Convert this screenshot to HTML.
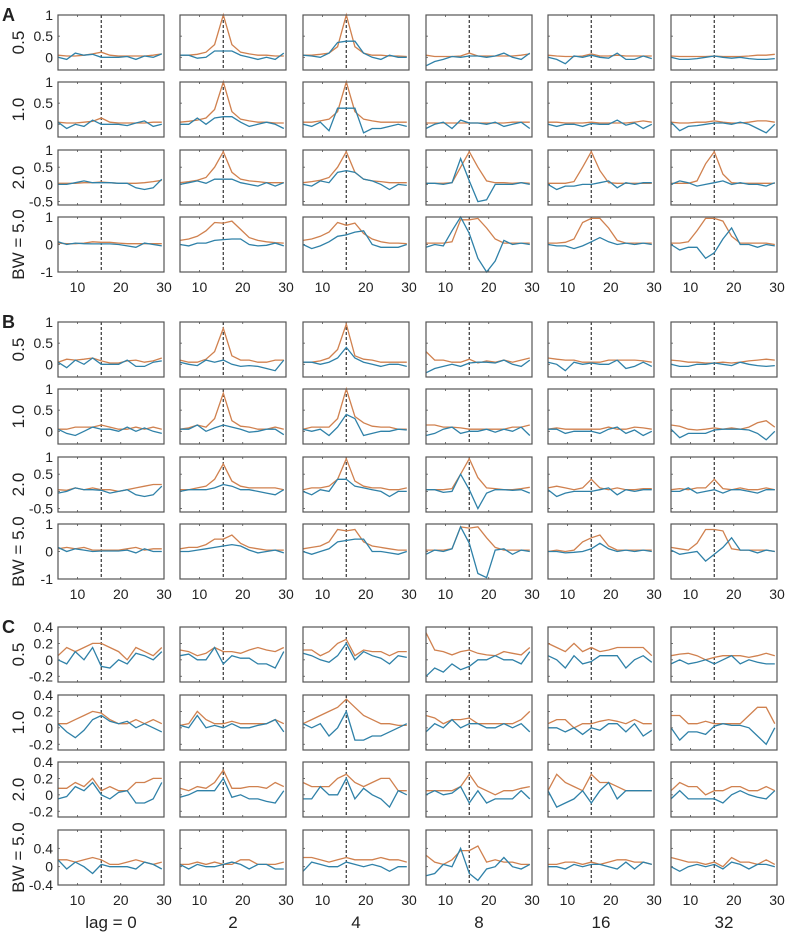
<!DOCTYPE html>
<html><head><meta charset="utf-8"><style>
body{margin:0;background:#fff;}
svg text{font-family:"Liberation Sans",sans-serif;fill:#222;}
</style></head><body>
<svg id="fig" width="787" height="932" viewBox="0 0 787 932" xmlns="http://www.w3.org/2000/svg"></svg>
<script>
const lags = [5.5,7.5,9.5,11.5,13.5,15.5,17.5,19.5,21.5,23.5,25.5,27.5,29.5];
const colLabels = ["lag = 0","2","4","8","16","32"];
const rowLabels = ["0.5","1.0","2.0","BW = 5.0"];
const panelNames = ["A","B","C"];
const refLag = 15.5;
const xTicks = [10,20,30];
const yRangesAB = [[-0.3,1],[-0.3,1],[-0.6,1],[-1,1]];
const yTicksAB = [[0,0.5,1],[0,0.5,1],[-0.5,0,0.5,1],[-1,0,1]];
const yTickLabelsAB = [["0","0.5","1"],["0","0.5","1"],["-0.5","0","0.5","1"],["-1","0","1"]];
const yRangesC = [[-0.27,0.4],[-0.27,0.4],[-0.27,0.4],[-0.4,0.8]];
const yTicksC = [[-0.2,0,0.2,0.4],[-0.2,0,0.2,0.4],[-0.2,0,0.2,0.4],[-0.4,0,0.4]];
const yTickLabelsC = [["-0.2","0","0.2","0.4"],["-0.2","0","0.2","0.4"],["-0.2","0","0.2","0.4"],["-0.4","0","0.4"]];

// Panel A orange / blue [row][col]
const A_orange = [
[[0.05,0.03,0.03,0.05,0.08,0.12,0.05,0.03,0.03,0.03,0.03,0.05,0.08],[0.05,0.05,0.07,0.12,0.3,1.0,0.3,0.12,0.08,0.05,0.05,0.03,0.03],[0.05,0.05,0.07,0.1,0.25,1.0,0.25,0.1,0.05,0.05,0.03,0.03,0.02],[0.05,0.02,0.02,0.02,0.03,0.1,0.03,0.03,0.03,0.03,0.03,0.05,0.08],[0.05,0.03,0.02,0.02,0.03,0.08,0.03,0.03,0.05,0.03,0.03,0.03,0.03],[0.03,0.02,0.02,0.02,0.02,0.03,0.02,0.02,0.02,0.03,0.05,0.05,0.07]],
[[0.05,0.03,0.03,0.05,0.07,0.15,0.05,0.03,0.03,0.03,0.03,0.05,0.05],[0.05,0.07,0.1,0.15,0.35,1.0,0.3,0.12,0.08,0.05,0.05,0.03,0.03],[0.05,0.05,0.08,0.12,0.3,1.0,0.3,0.12,0.08,0.05,0.05,0.05,0.05],[0.03,0.03,0.03,0.03,0.03,0.03,0.03,0.03,0.03,0.03,0.05,0.05,0.05],[0.05,0.05,0.03,0.03,0.03,0.05,0.03,0.03,0.03,0.03,0.05,0.08,0.05],[0.05,0.03,0.03,0.05,0.05,0.08,0.05,0.03,0.03,0.05,0.08,0.08,0.05]],
[[0.03,0.03,0.03,0.05,0.05,0.07,0.05,0.03,0.03,0.03,0.05,0.08,0.12],[0.05,0.08,0.12,0.2,0.5,0.95,0.35,0.15,0.1,0.08,0.05,0.05,0.05],[0.05,0.08,0.12,0.2,0.5,0.95,0.35,0.15,0.1,0.08,0.05,0.05,0.05],[0.03,0.03,0.03,0.05,0.5,0.95,0.5,0.1,0.05,0.05,0.03,0.05,0.03],[0.03,0.03,0.03,0.08,0.5,0.95,0.4,0.05,0.03,0.03,0.03,0.03,0.03],[0.03,0.03,0.03,0.1,0.6,0.95,0.3,0.05,0.03,0.03,0.03,0.03,0.03]],
[[0.05,0.03,0.03,0.05,0.1,0.08,0.08,0.05,0.03,0.03,0.03,0.03,0.03],[0.15,0.2,0.3,0.5,0.8,0.78,0.85,0.55,0.25,0.15,0.1,0.07,0.05],[0.15,0.2,0.3,0.45,0.8,0.7,0.78,0.4,0.2,0.1,0.05,0.05,0.03],[0.05,0.05,0.05,0.1,0.9,0.9,0.95,0.6,0.2,0.05,0.05,0.05,0.05],[0.05,0.05,0.08,0.2,0.8,0.95,0.95,0.6,0.15,0.05,0.05,0.05,0.05],[0.05,0.05,0.1,0.5,0.95,0.95,0.85,0.3,0.05,0.05,0.05,0.05,0.0]]];
const A_blue = [
[[0.0,-0.05,0.1,0.05,0.07,0.0,0.0,0.0,0.02,-0.05,0.03,0.0,0.08],[0.05,0.05,-0.02,0.0,0.15,0.15,0.15,0.05,0.0,-0.05,0.0,-0.05,0.1],[0.05,0.03,0.0,0.1,0.35,0.38,0.38,0.1,0.0,-0.05,0.05,0.0,0.0],[-0.2,-0.1,-0.05,0.02,0.0,0.03,0.03,0.0,0.03,0.1,0.0,-0.05,0.1],[0.0,-0.05,-0.15,0.03,0.0,0.05,0.0,-0.02,0.1,-0.05,-0.05,0.03,-0.03],[0.0,-0.05,-0.05,-0.03,0.0,0.03,0.0,-0.02,0.0,-0.03,-0.05,-0.05,-0.03]],
[[0.05,-0.1,0.0,-0.05,0.1,0.0,0.0,0.0,-0.03,0.03,0.08,-0.05,0.0],[0.0,0.0,0.15,0.0,0.15,0.18,0.18,0.05,-0.05,0.0,0.05,0.0,-0.1],[0.0,-0.05,0.05,-0.15,0.38,0.38,0.38,-0.2,-0.1,-0.1,-0.05,0.0,-0.05],[-0.1,0.0,0.05,-0.1,0.1,0.03,0.03,0.0,0.05,-0.05,0.0,0.05,-0.1],[0.0,-0.05,0.0,0.0,-0.05,0.02,0.0,0.0,0.1,-0.02,0.03,-0.1,0.0],[0.05,-0.15,-0.05,-0.03,0.0,0.03,0.03,0.0,0.05,0.0,-0.1,-0.2,0.0]],
[[0.0,0.0,0.05,0.1,0.05,0.05,0.05,0.03,0.03,-0.1,-0.15,-0.1,0.15],[0.0,0.05,0.1,0.03,0.15,0.15,0.15,0.05,0.0,-0.05,0.05,-0.05,0.05],[0.0,-0.05,0.1,0.05,0.35,0.4,0.35,0.15,0.1,0.0,-0.15,0.0,-0.03],[0.03,0.03,0.0,0.05,0.75,0.1,-0.5,-0.45,0.0,0.0,0.0,0.05,0.0],[0.0,-0.15,-0.05,-0.05,0.0,0.0,0.05,0.1,-0.1,0.05,0.0,0.05,0.05],[0.0,0.1,0.05,-0.05,0.0,0.05,0.1,0.0,0.05,0.0,0.0,-0.05,0.05]],
[[0.1,0.0,0.05,0.03,0.02,0.02,0.02,0.0,-0.05,-0.1,0.05,0.0,-0.05],[0.0,-0.05,0.05,0.05,0.15,0.18,0.2,0.2,0.0,-0.05,-0.03,0.05,-0.05],[0.0,-0.15,-0.05,0.1,0.3,0.35,0.45,0.5,0.0,-0.1,-0.1,-0.1,0.0],[-0.1,0.0,-0.05,0.5,1.0,0.4,-0.5,-1.0,-0.6,0.15,0.0,0.05,0.0],[0.0,-0.05,-0.05,-0.15,-0.05,0.1,0.25,0.1,0.0,0.05,0.0,0.05,0.0],[0.0,-0.2,-0.1,-0.1,-0.5,-0.3,0.2,0.6,0.0,0.0,-0.1,0.0,-0.05]]];

const B_orange = [
[[0.05,0.12,0.1,0.12,0.15,0.08,0.03,0.03,0.08,0.1,0.05,0.08,0.15],[0.1,0.05,0.05,0.12,0.3,0.85,0.2,0.1,0.1,0.05,0.05,0.1,0.1],[0.05,0.05,0.08,0.15,0.35,0.95,0.2,0.12,0.1,0.05,0.05,0.05,0.05],[0.3,0.1,0.1,0.05,0.05,0.12,0.03,0.08,0.05,0.1,0.05,0.1,0.15],[0.15,0.12,0.1,0.1,0.05,0.05,0.05,0.1,0.1,0.1,0.1,0.08,0.05],[0.1,0.08,0.05,0.05,0.03,0.03,0.05,0.03,0.05,0.08,0.1,0.12,0.1]],
[[0.05,0.05,0.1,0.1,0.1,0.15,0.1,0.05,0.05,0.1,0.05,0.1,0.05],[0.05,0.08,0.15,0.1,0.3,0.9,0.25,0.12,0.1,0.05,0.05,0.1,0.05],[0.05,0.1,0.1,0.1,0.3,1.0,0.35,0.2,0.12,0.1,0.1,0.05,0.05],[0.15,0.15,0.1,0.1,0.08,0.05,0.05,0.05,0.05,0.05,0.1,0.1,0.15],[0.05,0.08,0.05,0.05,0.05,0.05,0.05,0.1,0.05,0.05,0.1,0.08,0.05],[0.15,0.12,0.05,0.03,0.05,0.08,0.05,0.08,0.05,0.1,0.2,0.25,0.1]],
[[0.05,0.03,0.1,0.05,0.1,0.05,0.05,0.0,0.05,0.1,0.15,0.2,0.2],[0.05,0.05,0.1,0.15,0.35,0.8,0.3,0.15,0.1,0.1,0.1,0.1,0.05],[0.05,0.1,0.1,0.15,0.35,0.95,0.3,0.15,0.1,0.1,0.05,0.05,0.1],[0.05,0.05,0.05,0.08,0.5,0.95,0.4,0.1,0.08,0.05,0.05,0.08,0.12],[0.1,0.15,0.1,0.05,0.1,0.35,0.1,0.05,0.1,0.05,0.05,0.08,0.08],[0.05,0.08,0.05,0.1,0.1,0.35,0.08,0.05,0.1,0.05,0.05,0.1,0.05]],
[[0.1,0.15,0.1,0.15,0.05,0.05,0.05,0.05,0.1,0.15,0.05,0.1,0.1],[0.1,0.15,0.15,0.25,0.45,0.45,0.6,0.3,0.15,0.1,0.05,0.05,0.05],[0.1,0.15,0.2,0.35,0.8,0.75,0.8,0.35,0.2,0.15,0.1,0.05,0.05],[0.05,0.05,0.05,0.1,0.9,0.85,0.9,0.5,0.15,0.05,0.05,0.05,0.05],[0.0,0.05,0.0,0.05,0.35,0.5,0.6,0.2,0.05,0.05,0.05,0.05,0.05],[0.15,0.1,0.05,0.3,0.8,0.8,0.75,0.1,0.05,0.05,0.05,0.05,0.0]]];
const B_blue = [
[[0.05,-0.08,0.1,0.0,0.15,0.0,0.0,0.0,0.1,-0.05,-0.05,0.05,0.08],[0.05,0.0,-0.03,0.1,0.05,0.1,0.0,-0.05,-0.03,-0.05,-0.1,-0.15,0.1],[0.05,0.05,0.0,0.05,0.15,0.4,0.15,0.05,0.0,-0.05,0.0,0.0,-0.05],[-0.2,-0.1,-0.05,0.0,-0.05,0.03,0.05,0.05,0.03,0.1,0.0,-0.05,0.1],[0.05,0.0,-0.15,0.05,0.0,0.03,0.0,0.0,0.1,-0.1,-0.05,0.05,-0.05],[0.0,-0.05,-0.05,0.0,0.0,0.03,0.0,-0.03,0.05,0.0,-0.03,-0.05,-0.03]],
[[0.05,-0.05,-0.1,0.0,0.1,0.05,0.05,0.0,0.1,0.0,0.08,0.0,-0.05],[0.05,0.05,0.15,0.0,0.08,0.15,0.1,0.05,-0.02,0.0,0.05,0.05,-0.08],[0.05,0.0,0.05,-0.1,0.1,0.4,0.3,-0.1,-0.05,0.0,0.0,0.05,0.03],[-0.1,-0.05,0.05,0.1,-0.05,0.0,0.0,0.05,-0.02,0.05,0.0,0.1,-0.1],[0.05,0.05,-0.05,0.0,0.0,0.0,-0.05,0.05,0.1,-0.05,0.03,-0.1,0.0],[0.05,-0.15,-0.05,-0.05,-0.05,0.03,0.05,0.05,0.05,0.03,-0.05,-0.2,0.0]],
[[-0.05,0.0,0.1,0.05,0.05,0.03,-0.05,0.0,0.05,-0.1,-0.15,-0.1,0.15],[0.0,0.05,0.05,0.05,0.1,0.2,0.15,0.05,0.05,0.0,-0.05,-0.1,0.05],[0.0,-0.1,0.05,0.0,0.35,0.35,0.15,0.1,0.05,0.0,-0.15,0.0,0.0],[0.05,0.05,-0.03,0.0,0.5,0.05,-0.5,-0.05,0.05,0.05,0.03,0.05,-0.05],[0.05,-0.15,-0.05,0.0,0.0,0.0,0.05,0.1,-0.1,0.05,0.0,0.05,0.05],[0.0,0.0,0.1,-0.05,0.0,0.05,-0.05,0.05,0.05,0.0,-0.05,0.05,0.05]],
[[0.15,0.0,0.1,0.05,0.0,0.02,0.02,0.02,0.05,-0.05,0.1,0.0,0.0],[0.0,0.0,0.05,0.1,0.15,0.2,0.25,0.2,0.05,-0.05,0.0,0.05,-0.05],[0.0,-0.1,0.0,0.1,0.35,0.4,0.45,0.45,0.0,0.0,-0.05,-0.1,0.0],[-0.1,0.05,0.0,0.1,0.9,0.3,-0.8,-0.95,0.05,0.1,-0.1,0.05,0.0],[0.0,0.0,-0.05,-0.03,0.0,0.1,0.3,0.1,0.0,0.05,0.0,0.05,0.0],[0.05,-0.1,-0.05,0.0,-0.35,-0.1,0.15,0.5,0.05,0.05,-0.05,0.05,0.0]]];

const C_orange = [
[[0.05,0.15,0.1,0.15,0.2,0.2,0.15,0.1,0.0,0.15,0.1,0.05,0.15],[0.12,0.1,0.05,0.08,0.15,0.1,0.1,0.08,0.12,0.15,0.12,0.1,0.15],[0.12,0.12,0.05,0.1,0.2,0.25,0.05,0.12,0.1,0.1,0.05,0.1,0.1],[0.33,0.12,0.1,0.06,0.1,0.12,0.08,0.06,0.05,0.1,0.08,0.06,0.15],[0.2,0.15,0.1,0.2,0.1,0.15,0.1,0.12,0.15,0.15,0.15,0.15,0.05],[0.05,0.07,0.08,0.05,0.0,0.03,0.05,0.05,0.05,0.03,0.05,0.08,0.05]],
[[0.05,0.05,0.1,0.15,0.2,0.18,0.1,0.05,0.05,0.1,0.05,0.1,0.05],[0.03,0.05,0.2,0.1,0.05,0.05,0.08,0.05,0.05,0.05,0.05,0.1,0.05],[0.05,0.1,0.15,0.2,0.25,0.35,0.25,0.15,0.1,0.05,0.05,0.03,0.03],[0.15,0.12,0.05,0.1,0.1,0.12,0.05,0.05,0.05,0.05,0.05,0.1,0.2],[0.05,0.1,0.1,0.0,0.05,0.05,0.08,0.1,0.08,0.05,0.1,0.05,0.05],[0.15,0.15,0.05,0.05,0.08,0.05,0.05,0.05,0.05,0.15,0.25,0.25,0.05]],
[[0.08,0.08,0.15,0.1,0.2,0.05,0.1,0.05,0.05,0.15,0.15,0.2,0.2],[0.08,0.05,0.1,0.08,0.15,0.3,0.08,0.08,0.1,0.1,0.08,0.15,0.1],[0.15,0.1,0.1,0.1,0.2,0.25,0.15,0.1,0.15,0.2,0.2,0.05,0.05],[0.05,0.05,0.05,0.05,0.1,0.25,0.1,0.05,0.0,0.05,0.05,0.08,0.1],[0.05,0.25,0.15,0.1,0.05,0.25,0.15,0.15,0.1,0.05,0.05,0.05,0.05],[0.05,0.15,0.1,0.1,0.0,0.05,0.05,0.1,0.1,0.05,0.05,0.1,0.05]],
[[0.15,0.15,0.1,0.15,0.2,0.15,0.05,0.05,0.1,0.15,0.1,0.05,0.1],[0.05,0.05,0.1,0.05,0.1,0.05,0.05,0.15,0.15,0.05,0.05,0.05,0.1],[0.2,0.2,0.15,0.1,0.15,0.2,0.15,0.15,0.15,0.2,0.15,0.15,0.1],[0.25,0.1,0.05,0.15,0.35,0.35,0.45,0.1,0.15,0.1,0.1,0.05,0.05],[0.05,0.05,0.1,0.1,0.05,0.1,0.05,0.1,0.15,0.15,0.1,0.1,0.05],[0.2,0.15,0.1,0.1,0.05,0.1,0.0,0.2,0.1,0.1,0.05,0.15,0.05]]];
const C_blue = [
[[0.0,-0.05,0.1,0.0,0.15,-0.08,-0.1,0.0,-0.05,0.08,0.05,0.0,0.1],[0.05,0.07,0.0,0.0,0.15,-0.05,0.05,0.02,0.02,-0.05,-0.05,-0.1,0.1],[0.08,0.05,0.0,-0.03,0.05,0.2,0.0,0.1,0.05,0.02,-0.05,0.05,0.03],[-0.2,-0.1,-0.15,-0.05,-0.12,-0.08,0.0,0.0,0.05,0.0,0.0,-0.05,0.1],[0.05,0.0,-0.1,0.05,-0.05,-0.02,0.05,0.05,0.05,-0.1,0.0,0.05,-0.03],[-0.05,0.0,-0.05,-0.03,0.0,-0.05,0.0,0.05,-0.05,0.0,-0.03,-0.05,-0.05]],
[[0.05,-0.05,-0.12,-0.03,0.1,0.15,0.08,0.05,0.08,0.0,0.05,0.0,-0.05],[0.03,0.0,0.15,0.0,0.03,0.0,0.05,0.0,0.0,0.03,0.05,0.1,-0.05],[0.05,0.0,0.05,-0.1,0.0,0.2,-0.15,-0.15,-0.1,-0.1,-0.05,0.0,0.05],[-0.05,0.05,0.0,0.1,0.0,0.05,0.05,0.0,0.0,0.05,0.0,0.05,-0.05],[0.0,0.0,-0.05,0.0,-0.08,0.0,-0.03,0.05,0.05,-0.05,0.05,-0.1,-0.03],[0.0,-0.15,-0.05,-0.05,-0.08,0.02,0.05,0.03,0.03,0.0,-0.1,-0.2,0.0]],
[[-0.05,-0.02,0.1,0.05,0.15,0.0,-0.05,0.03,0.05,-0.1,-0.1,-0.05,0.15],[-0.03,0.0,0.05,0.05,0.05,0.2,-0.03,0.0,-0.05,-0.05,-0.08,-0.1,0.05],[-0.05,-0.05,0.1,0.0,0.0,0.2,-0.05,0.08,0.0,-0.05,-0.15,0.05,0.0],[0.0,0.05,0.0,0.02,0.1,-0.1,0.05,-0.1,-0.05,-0.05,-0.05,0.05,-0.05],[0.05,-0.15,-0.1,-0.05,0.05,-0.1,0.05,0.15,-0.05,0.05,0.05,0.05,0.05],[-0.05,0.05,-0.05,-0.05,-0.05,-0.05,-0.1,0.0,0.05,0.0,-0.03,-0.05,0.05]],
[[0.15,-0.05,0.1,0.0,-0.15,0.05,0.0,0.0,0.0,-0.05,0.1,0.05,-0.05],[0.05,-0.05,0.05,0.0,0.0,0.05,0.1,0.05,-0.05,0.05,0.05,-0.05,-0.05],[-0.1,0.1,0.05,0.0,0.0,0.1,0.05,0.0,0.05,0.0,-0.1,0.0,0.0],[-0.2,-0.15,0.05,0.0,0.4,-0.15,-0.3,-0.05,0.0,0.2,0.0,-0.05,0.05],[0.0,0.0,-0.05,0.05,0.0,0.05,0.05,0.0,-0.05,0.1,-0.05,0.1,0.05],[0.0,-0.1,0.0,0.05,0.0,0.05,-0.05,0.1,0.05,-0.05,0.05,0.05,0.0]]];

const NS = "http://www.w3.org/2000/svg";
const svg = document.getElementById("fig");
const colX = [58,180,303,426,548,671], W = 106, H = 55;
const rowY = [[15,82,150,217],[322,389,457,524],[627,695,762,830]];
const xMin = 5.5, xMax = 30;
const ORANGE = "#d0814f", BLUE = "#2f81a8";
function mk(tag, attrs, parent){const e=document.createElementNS(NS,tag);for(const k in attrs)e.setAttribute(k,attrs[k]);(parent||svg).appendChild(e);return e;}
function xScale(v,c){return colX[c]+(v-xMin)/(xMax-xMin)*W;}
function yScale(v,r0,rng){return r0+H-(v-rng[0])/(rng[1]-rng[0])*H;}
const panels = [[A_orange,A_blue],[B_orange,B_blue],[C_orange,C_blue]];
panels.forEach((pd,p)=>{
  const ranges = p<2?yRangesAB:yRangesC, ticks = p<2?yTicksAB:yTicksC, tl = p<2?yTickLabelsAB:yTickLabelsC;
  const lt = mk("text",{x:2,y:rowY[p][0]+6,"font-size":18,"font-weight":"bold"});
  lt.textContent = panelNames[p];
  
  
  for(let r=0;r<4;r++){
    const y0=rowY[p][r], rng=ranges[r];
    const rl = mk("text",{x:0,y:0,"font-size":17,"text-anchor":"middle",transform:`translate(24,${y0+H/2}) rotate(-90)`});
    rl.textContent = rowLabels[r];
    
    
    for(let c=0;c<6;c++){
      const g = mk("g",{});
      
      
      // ticks inside
      xTicks.forEach(t=>{const x=xScale(t,c);mk("line",{x1:x,x2:x,y1:y0+H,y2:y0+H-2,stroke:"#555","stroke-width":0.8},g);mk("line",{x1:x,x2:x,y1:y0,y2:y0+2,stroke:"#555","stroke-width":0.8},g);});
      ticks[r].forEach(t=>{const y=yScale(t,y0,rng);mk("line",{x1:colX[c],x2:colX[c]+2,y1:y,y2:y,stroke:"#555","stroke-width":0.8},g);});
      const dl = mk("line",{x1:xScale(refLag,c),x2:xScale(refLag,c),y1:y0,y2:y0+H,stroke:"#333","stroke-width":1.2,"stroke-dasharray":"3,2"},g);
      
      
      [[pd[0],ORANGE,'orange-series'],[pd[1],BLUE,'blue-series']].forEach(([arr,col,nm])=>{
        const vals = arr[r][c];
        const pts = lags.map((l,i)=>xScale(l,c).toFixed(1)+","+yScale(Math.max(rng[0],Math.min(rng[1],vals[i])),y0,rng).toFixed(1)).join(" ");
        const pl = mk("polyline",{points:pts,fill:"none",stroke:col,"stroke-width":1.3},g);
        
        
      });
      const box = mk("rect",{x:colX[c],y:y0,width:W,height:H,fill:"none",stroke:"#555","stroke-width":1.2},g);
      
      
      if(c===0){
        ticks[r].forEach((t,i)=>{const tx=mk("text",{x:colX[0]-5,y:yScale(t,y0,rng)+5,"font-size":14,"text-anchor":"end"});tx.textContent=tl[r][i];
          
          });
      }
      if(r===3){
        xTicks.forEach(t=>{const tx=mk("text",{x:xScale(t,c),y:y0+H+20,"font-size":14,"text-anchor":"middle"});tx.textContent=t;
          
          });
      }
    }
  }
});
colLabels.forEach((s,c)=>{const t=mk("text",{x:colX[c]+W/2,y:928,"font-size":17,"text-anchor":"middle"});t.textContent=s;
  
  });
</script>
</body></html>
